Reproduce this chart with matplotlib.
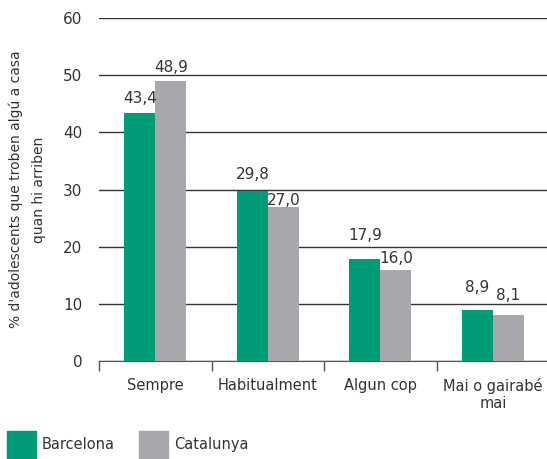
import numpy as np
import matplotlib
matplotlib.use("Agg")
import matplotlib.pyplot as plt
from matplotlib.patches import Patch

categories = ["Sempre", "Habitualment", "Algun cop", "Mai o gairabé\nmai"]
barcelona = [43.4, 29.8, 17.9, 8.9]
catalunya = [48.9, 27.0, 16.0, 8.1]
series_names = ["Barcelona", "Catalunya"]
y_ticks = [0, 10, 20, 30, 40, 50, 60]

# label gap above each bar, in pixels (as placed in the original)
gap_barcelona = [10, 12, 19, 18]
gap_catalunya = [9, 2, 7, 15]

green = "#009b77"
grey = "#a7a8ab"
txt = "#333333"

plt.rcParams["font.family"] = ["DejaVu Sans"]
plt.rcParams["font.size"] = 10.5

fig = plt.figure(figsize=(5.47, 4.59), dpi=100)
ax = fig.add_axes([99 / 547, 1 - 361 / 459, 1 - 99 / 547, (361 - 18) / 459])

x = np.arange(len(categories))
w = 0.275
b1 = ax.bar(x - w / 2, barcelona, w, color=green, zorder=3)
b2 = ax.bar(x + w / 2, catalunya, w, color=grey, zorder=3)

# value labels with decimal comma
for bars, vals, gaps in [(b1, barcelona, gap_barcelona), (b2, catalunya, gap_catalunya)]:
    for b, v, g in zip(bars, vals, gaps):
        ax.annotate(f"{v:.1f}".replace(".", ","),
                    (b.get_x() + b.get_width() / 2, v),
                    xytext=(0, g * 0.72), textcoords="offset points",
                    ha="center", va="baseline", color=txt, fontsize=11)

ax.set_ylim(0, 60)
ax.set_yticks(y_ticks)
ax.set_xlim(-0.5, 3.48)
ax.yaxis.grid(True, color=txt, linewidth=1, zorder=0)
ax.set_axisbelow(True)
ax.tick_params(axis="y", length=0, pad=12, labelsize=11, labelcolor=txt)

ax.set_xticks(x)
ax.set_xticklabels(categories, color=txt, fontsize=10.5)
ax.set_xticks(np.arange(-0.5, 3.5, 1), minor=True)
ax.tick_params(axis="x", which="major", length=0, pad=12)
ax.tick_params(axis="x", which="minor", length=7, width=1, color="#555555")

for s in ["top", "right", "left"]:
    ax.spines[s].set_visible(False)
ax.spines["bottom"].set_color("#555555")

ax.set_ylabel("% d'adolescents que troben algú a casa\nquan hi arriben",
              color=txt, fontsize=10, labelpad=12, linespacing=1.8)

handles = [Patch(color=green), Patch(color=grey)]
fig.legend(handles, series_names, loc="lower left", bbox_to_anchor=(7 / 547, 0.0),
           frameon=False, ncol=2, handlelength=2.0, handleheight=2.6,
           handletextpad=0.4, columnspacing=1.65, borderaxespad=0.0,
           borderpad=0.0, fontsize=10.5, labelcolor=txt)

fig.savefig("out.png", dpi=100)
